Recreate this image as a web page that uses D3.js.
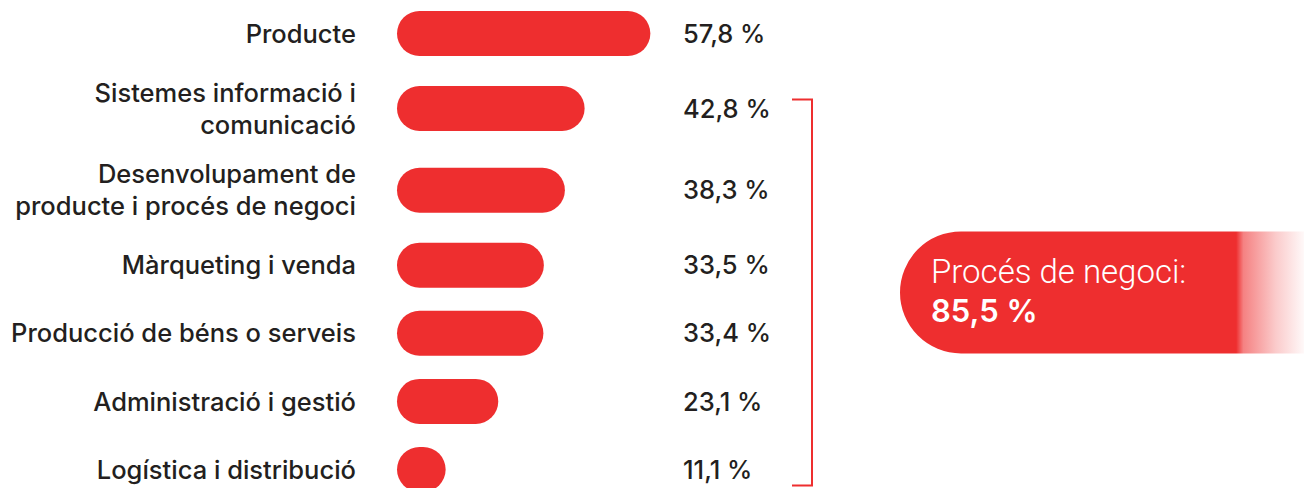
<!DOCTYPE html>
<html>
<head>
<meta charset="utf-8">
<script src="https://cdn.jsdelivr.net/npm/d3@7/dist/d3.min.js"></script>
<style>
  html, body { margin: 0; padding: 0; background: #fff; }
  svg { display: block; }
</style>
</head>
<body>
<svg id="chart" width="1304" height="488"></svg>
<script>
// categories, each label split in lines as in the original
var categories = [
    ['Producte'],
    ['Sistemes informació i', 'comunicació'],
    ['Desenvolupament de', 'producte i procés de negoci'],
    ['Màrqueting i venda'],
    ['Producció de béns o serveis'],
    ['Administració i gestió'],
    ['Logística i distribució']
];
var values = [57.8, 42.8, 38.3, 33.5, 33.4, 23.1, 11.1];
var groupLabel = 'Procés de negoci:';
var groupValue = 85.5;
var groupFrom = 1;   // first category index inside the bracket
var groupTo = 6;     // last one

var red = '#ee2e2f';
var ink = '#231f20';
var labelFont = 'Inter, "Liberation Sans", Arial, sans-serif';
var fmt = function(v){ return d3.format('.1f')(v).replace('.', ',') + ' %'; };

var svg = d3.select('#chart');

// rows with two label lines take a bit more room
var units = [];
var acc = 0;
categories.forEach(function(lines, i){
    var size = lines.length > 1 ? 1.2 : 1;
    if(i > 0){
        var prev = categories[i - 1].length > 1 ? 1.2 : 1;
        acc += prev / 2 + size / 2;
    }
    units.push(acc);
});

var y = d3.scaleLinear().domain([0, acc]).range([33.5, 469.5]);
var x = d3.scaleLinear().domain([0, 60]).range([397, 397 + 263]);
var barH = 45;

var rows = svg.selectAll('g.row')
    .data(values)
    .enter()
    .append('g')
    .attr('class', 'row')
    .attr('transform', function(d, i){ return 'translate(0,' + y(units[i]) + ')'; });

rows.append('rect')
    .attr('x', x(0))
    .attr('y', -barH / 2)
    .attr('width', function(d){ return x(d) - x(0); })
    .attr('height', barH)
    .attr('rx', function(d){ return Math.min(barH / 2, (x(d) - x(0)) / 2); })
    .attr('fill', red);

// value labels
rows.append('text')
    .attr('x', 683)
    .attr('dy', '0.36em')
    .attr('font-family', labelFont)
    .attr('font-weight', 500)
    .attr('font-size', 25.5)
    .attr('fill', ink)
    .text(function(d){ return fmt(d); });

// category labels
var lineH = 32;
rows.append('text')
    .attr('x', 356)
    .attr('text-anchor', 'end')
    .attr('font-family', labelFont)
    .attr('font-weight', 500)
    .attr('font-size', 25.5)
    .attr('fill', ink)
    .each(function(d, i){
        var lines = categories[i];
        var t = d3.select(this);
        lines.forEach(function(l, j){
            t.append('tspan')
                .attr('x', 356)
                .attr('y', (j - (lines.length - 1) / 2) * lineH)
                .attr('dy', '0.36em')
                .text(l);
        });
    });

// bracket around the business-process rows
var bTop = y(units[groupFrom]) - 9;
var bBot = y(units[groupTo]) + 16;
var bX = 812;
svg.append('path')
    .attr('d', 'M' + (bX - 20) + ',' + bTop + 'H' + bX + 'V' + bBot + 'H' + (bX - 20))
    .attr('fill', 'none')
    .attr('stroke', red)
    .attr('stroke-width', 2);

// callout pill fading out to the right
var defs = svg.append('defs');
var grad = defs.append('linearGradient')
    .attr('id', 'fade')
    .attr('gradientUnits', 'userSpaceOnUse')
    .attr('x1', 900).attr('x2', 1304)
    .attr('y1', 0).attr('y2', 0);
grad.append('stop').attr('offset', 0.832).attr('stop-color', red).attr('stop-opacity', 1);
grad.append('stop').attr('offset', 0.85).attr('stop-color', red).attr('stop-opacity', 0.6);
grad.append('stop').attr('offset', 0.93).attr('stop-color', red).attr('stop-opacity', 0.25);
grad.append('stop').attr('offset', 1).attr('stop-color', red).attr('stop-opacity', 0.03);

var cMid = (bTop + bBot) / 2;
var cH = 122;
var cX = 900;
var r = cH / 2;
svg.append('path')
    .attr('d', 'M' + (cX + r) + ',' + (cMid - r) +
        'H1304V' + (cMid + r) + 'H' + (cX + r) +
        'A' + r + ',' + r + ' 0 0 1 ' + (cX + r) + ',' + (cMid - r) + 'Z')
    .attr('fill', 'url(#fade)');

svg.append('text')
    .attr('x', 931)
    .attr('y', cMid - 9)
    .attr('font-family', 'Roboto, "Liberation Sans", sans-serif')
    .attr('font-weight', 300)
    .attr('font-size', 33)
    .attr('fill', '#fff')
    .text(groupLabel);

svg.append('text')
    .attr('x', 931)
    .attr('y', cMid + 30)
    .attr('font-family', labelFont)
    .attr('font-weight', 600)
    .attr('font-size', 31)
    .attr('fill', '#fff')
    .text(fmt(groupValue));
</script>
</body>
</html>
